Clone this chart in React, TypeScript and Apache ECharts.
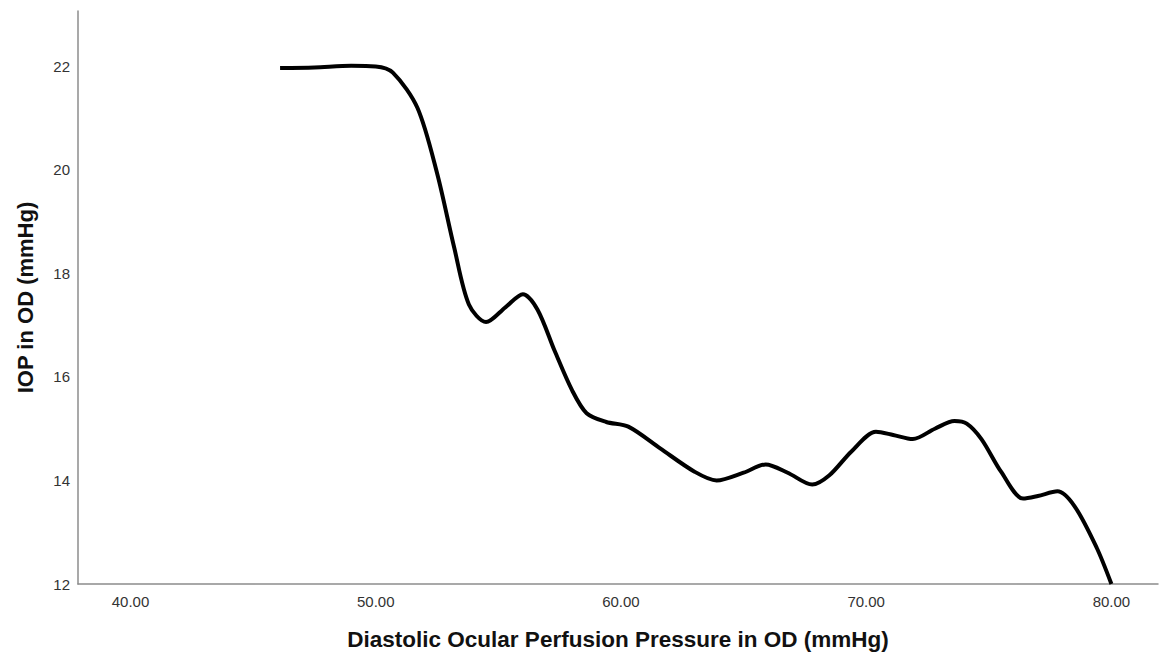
import React, { useEffect, useRef } from "react";
import * as echarts from "echarts";

const xTicks = [40, 50, 60, 70, 80];
const yTicks = [12, 14, 16, 18, 20, 22];
const dopp = [46.1, 47.5, 49.0, 50.0, 50.7, 51.7, 52.5, 53.2, 53.8, 54.5, 55.3, 56.0, 56.6, 57.3, 58.0, 58.6, 59.4, 60.3, 61.6, 63.0, 63.9, 65.0, 65.9, 66.8, 67.8, 68.5, 69.4, 70.4, 71.1, 71.9, 72.8, 73.6, 74.1, 74.7, 75.5, 76.4, 77.0, 77.8, 78.5, 79.4, 80.0];
const iop = [21.97, 21.98, 22.01, 22.0, 21.88, 21.2, 19.94, 18.5, 17.4, 17.06, 17.35, 17.6, 17.3, 16.5, 15.75, 15.3, 15.13, 15.04, 14.62, 14.17, 14.0, 14.15, 14.31, 14.15, 13.92, 14.1, 14.56, 14.94, 14.88, 14.8, 15.0, 15.15, 15.1, 14.8, 14.17, 13.65, 13.7, 13.79, 13.5, 12.7, 12.0];

const FONT = "'Liberation Sans', Arial, sans-serif";

export default function App() {
  const ref = useRef<HTMLDivElement>(null);
  useEffect(() => {
    if (!ref.current) return;
    const chart = echarts.init(ref.current, null, { renderer: "svg" });
    chart.setOption({
      animation: false,
      backgroundColor: "#ffffff",
      grid: { left: 78, right: 2, top: 11, bottom: 70 },
      xAxis: {
        type: "value",
        min: 37.86,
        max: 81.9,
        name: "Diastolic Ocular Perfusion Pressure in OD (mmHg)",
        nameLocation: "middle",
        nameGap: 44,
        nameTextStyle: { fontFamily: FONT, fontSize: 22.5, fontWeight: "bold", color: "#111" },
        axisLine: { show: true, lineStyle: { color: "#8c8c8c", width: 1.5 } },
        axisTick: { show: false },
        splitLine: { show: false },
        axisLabel: {
          customValues: xTicks,
          formatter: (v: number) => v.toFixed(2),
          fontFamily: FONT,
          fontSize: 15,
          color: "#333",
          margin: 10,
        },
      },
      yAxis: {
        type: "value",
        min: 12,
        max: 23.07,
        name: "IOP in OD (mmHg)",
        nameLocation: "middle",
        nameGap: 42,
        nameRotate: 90,
        nameTextStyle: { fontFamily: FONT, fontSize: 22, fontWeight: "bold", color: "#111" },
        axisLine: { show: true, lineStyle: { color: "#8c8c8c", width: 1.5 } },
        axisTick: { show: false },
        splitLine: { show: false },
        axisLabel: {
          customValues: yTicks,
          fontFamily: FONT,
          fontSize: 15,
          color: "#333",
          margin: 8,
        },
      },
      series: [
        {
          type: "line",
          data: dopp.map((x, i) => [x, iop[i]]),
          smooth: 0.3,
          showSymbol: false,
          lineStyle: { color: "#000", width: 4 },
        },
      ],
    });
    return () => chart.dispose();
  }, []);
  return (
    <div
      ref={ref}
      style={{ position: "absolute", left: 0, top: 0, width: 1160, height: 656 }}
    />
  );
}
